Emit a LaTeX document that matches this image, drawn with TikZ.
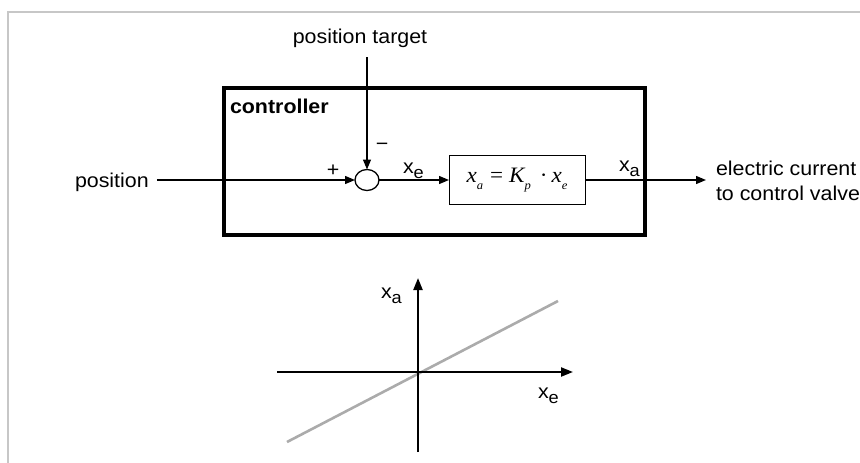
\documentclass[tikz,border=0pt]{standalone}
\usepackage{fontspec}
\setmainfont{Liberation Sans}[FakeStretch=1.07]
\newfontfamily\formfont{Liberation Serif}[FakeStretch=1.05]
\usetikzlibrary{arrows.meta,shapes.geometric}
\newcommand\subsc[1]{\raisebox{-0.28em}{\fontsize{17}{17}\selectfont #1}}
\newcommand\fsubsc[1]{\raisebox{-0.3em}{\fontsize{12}{12}\selectfont\itshape #1}}
\begin{document}
\begin{tikzpicture}[x=1pt,y=-1pt,font=\fontsize{20}{25}\selectfont,inner sep=0pt,outer sep=0pt,
  conn/.style={line width=1.3pt,-{Triangle[length=10pt,width=8pt]}},
  axisline/.style={line width=2.2pt,-{Triangle[length=12pt,width=9pt]}},
  graphline/.style={line width=2.6pt,color=black!33},
  frameline/.style={line width=1.5pt,color=black!22},
  lbl/.style={anchor=base west},
  sumnode/.style={draw,ellipse,line width=1.3pt,minimum width=24pt,minimum height=21pt},
  blocknode/.style={draw,line width=1pt,minimum width=136pt,minimum height=49pt},
  ctrlbox/.style={draw,line width=3.3pt,minimum width=421pt,minimum height=147pt}]
\useasboundingbox (0,0) rectangle (860,463);
\draw[frameline] (8,463) -- (8,12) -- (860,12);
% controller frame
\node[ctrlbox] (ctrl) at (434.5,161.5) {};
\node[lbl,font=\fontsize{20}{25}\selectfont\bfseries] (ctrllbl) at (230,113) {controller};
% nodes
\node[sumnode] (sum) at (367,180) {};
\node[blocknode] (block) at (517,180) {{\formfont\fontsize{22}{25}\selectfont\itshape x\fsubsc{a}\hspace{7pt}\upshape=\hspace{6pt}\itshape K\fsubsc{p}\hspace{9pt}\upshape·\hspace{4pt}\itshape x\fsubsc{e}}};
\node[lbl] (pos) at (75,187) {position};
\node[anchor=base] (target) at (360,43) {position target};
\coordinate (out) at (706,180);
\node[anchor=west,align=left,font=\fontsize{20}{25}\selectfont] (outtxt) at (716,181) {electric current\\to control valve};
% connectors
\draw[conn,shorten <=8pt] (pos.east |- sum.west) -- (sum.west);
\draw[conn,shorten <=10pt] (sum.north |- target.south) -- (sum.north);
\draw[conn] (sum.east) -- (block.west);
\draw[conn] (block.east) -- (out);
% labels
\node[anchor=center] (plus) at (333,171) {+};
\node[anchor=center] (minus) at (382,147) {\char"2212};
\node[lbl] (xe) at (403,173) {x\subsc{e}};
\node[lbl] (xa) at (619,171) {x\subsc{a}};
% characteristic plot
\coordinate (o) at (418,372);
\draw[graphline] (287,442) -- (558,301);
\draw[axisline] (418,452) -- (418,278);
\draw[axisline] (277,372) -- (573,372);
\node[lbl] (pxa) at (381,298) {x\subsc{a}};
\node[lbl] (pxe) at (538,398) {x\subsc{e}};
\end{tikzpicture}
\end{document}
